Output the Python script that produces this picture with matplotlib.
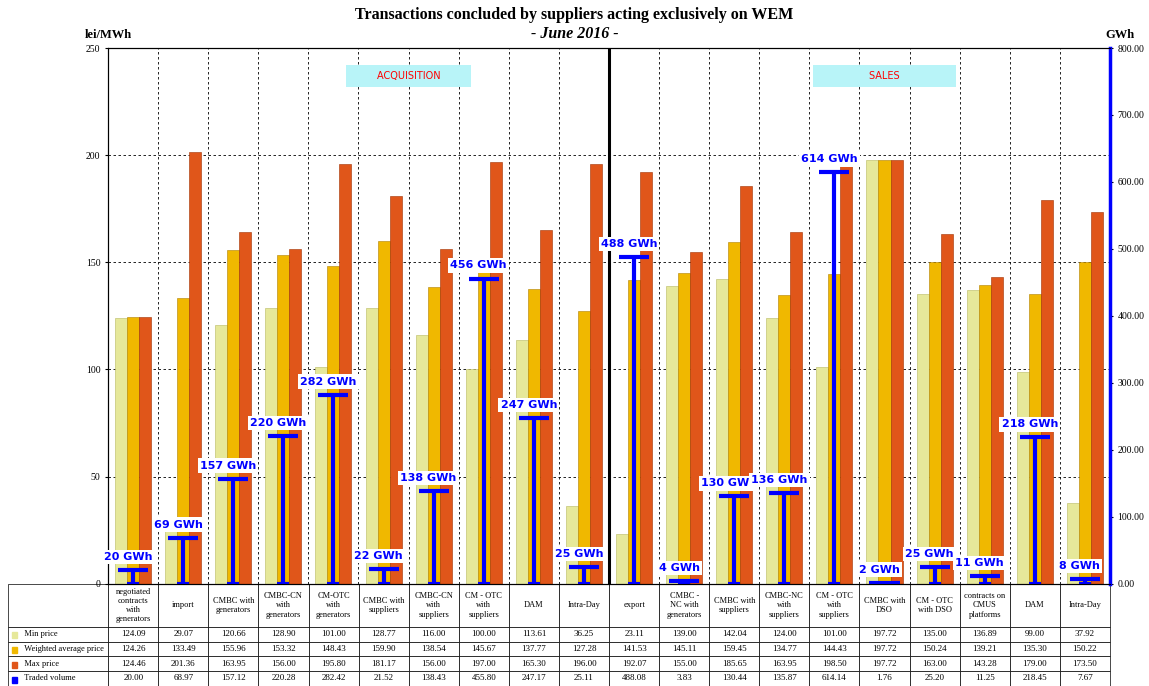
import numpy as np
import matplotlib.pyplot as plt

categories = ['negotiated\ncontracts\nwith\ngenerators', 'import', 'CMBC with\ngenerators',
              'CMBC-CN\nwith\ngenerators', 'CM-OTC\nwith\ngenerators', 'CMBC with\nsuppliers',
              'CMBC-CN\nwith\nsuppliers', 'CM - OTC\nwith\nsuppliers', 'DAM', 'Intra-Day',
              'export', 'CMBC -\nNC with\ngenerators', 'CMBC with\nsuppliers', 'CMBC-NC\nwith\nsuppliers',
              'CM - OTC\nwith\nsuppliers', 'CMBC with\nDSO', 'CM - OTC\nwith DSO',
              'contracts on\nCMUS\nplatforms', 'DAM', 'Intra-Day']
min_price = [124.09, 29.07, 120.66, 128.90, 101.00, 128.77, 116.00, 100.00, 113.61, 36.25,
             23.11, 139.00, 142.04, 124.00, 101.00, 197.72, 135.00, 136.89, 99.00, 37.92]
avg_price = [124.26, 133.49, 155.96, 153.32, 148.43, 159.90, 138.54, 145.67, 137.77, 127.28,
             141.53, 145.11, 159.45, 134.77, 144.43, 197.72, 150.24, 139.21, 135.30, 150.22]
max_price = [124.46, 201.36, 163.95, 156.00, 195.80, 181.17, 156.00, 197.00, 165.30, 196.00,
             192.07, 155.00, 185.65, 163.95, 198.50, 197.72, 163.00, 143.28, 179.00, 173.50]
volume = [20.00, 68.97, 157.12, 220.28, 282.42, 21.52, 138.43, 455.80, 247.17, 25.11,
          488.08, 3.83, 130.44, 135.87, 614.14, 1.76, 25.20, 11.25, 218.45, 7.67]

plt.rcParams['font.family'] = ['Liberation Serif', 'DejaVu Serif']
fig = plt.figure(figsize=(11.49, 6.86), dpi=100)
ax = fig.add_axes([0.094, 0.149, 0.872, 0.781])
n = len(categories)
x = np.arange(n)
w = 0.24
ax.bar(x - w, min_price, w, color='#E6E89A', edgecolor='#B8B860', lw=0.4)
ax.bar(x, avg_price, w, color='#F0B800', edgecolor='#B08000', lw=0.4)
ax.bar(x + w, max_price, w, color='#E0561A', edgecolor='#A03000', lw=0.4)
ax.set_xlim(-0.5, n - 0.5)
ax.set_ylim(0, 250)
ax.set_yticks(range(0, 251, 50))
ax.tick_params(labelsize=7, length=2)
ax.set_xticks([])
for v in [50, 100, 150, 200]:
    ax.axhline(v, color='black', ls=(0, (3, 3)), lw=0.6, zorder=0)
for i in range(1, n):
    if i == 10:
        ax.axvline(i - 0.5, color='black', lw=2.2)
    else:
        ax.axvline(i - 0.5, color='black', ls=(0, (3, 3)), lw=0.6, zorder=0)

ax2 = ax.twinx()
ax2.set_ylim(0, 800)
ax2.set_yticks(range(0, 801, 100))
ax2.set_yticklabels([f'{v:.2f}' for v in range(0, 801, 100)], fontsize=7)
ax2.spines['right'].set_color('blue')
ax2.spines['right'].set_linewidth(2.5)
ax2.tick_params(length=2)
ax2.vlines(x, 0, volume, color='blue', lw=3)
ax2.hlines(volume, x - 0.3, x + 0.3, color='blue', lw=3)
ax2.hlines(np.zeros(n), x - 0.12, x + 0.12, color='blue', lw=3)
for i, v in enumerate(volume):
    ax2.text(x[i] - 0.1, v + 12, f'{round(v)} GWh', color='blue', fontsize=8, fontweight='bold',
             family='DejaVu Sans', ha='center', va='bottom',
             bbox=dict(facecolor='white', edgecolor='none', pad=1.5))

ax.text(5.5, 237, '        ACQUISITION        ', color='red', fontsize=7, family='DejaVu Sans',
        ha='center', va='center',
        bbox=dict(facecolor='#B8F4F8', edgecolor='none', boxstyle='square,pad=0.6'))
ax.text(15.0, 237, '                SALES                ', color='red', fontsize=7, family='DejaVu Sans',
        ha='center', va='center',
        bbox=dict(facecolor='#B8F4F8', edgecolor='none', boxstyle='square,pad=0.6'))

fig.text(0.5, 0.972, 'Transactions concluded by suppliers acting exclusively on WEM', ha='center',
         fontsize=11.5, fontweight='bold')
fig.text(0.5, 0.945, '- June 2016 -', ha='center', fontsize=11.5, fontweight='bold', style='italic')
fig.text(0.094, 0.945, 'lei/MWh', ha='center', fontsize=9, fontweight='bold')
fig.text(0.975, 0.945, 'GWh', ha='center', fontsize=9, fontweight='bold')

# table
rows = [('Min price', min_price, '#E6E89A'), ('Weighted average price', avg_price, '#F0B800'),
        ('Max price', max_price, '#E0561A'), ('Traded volume', volume, 'blue')]
cell_text = [[''] + [c for c in categories]]
for name, vals, col in rows:
    cell_text.append(['   ' + name] + [f'{v:.2f}' for v in vals])
tab = ax.table(cellText=cell_text, cellLoc='center', bbox=[-0.0998, -0.19, 1.0998, 0.19])
tab.auto_set_font_size(False)
for (r, c), cell in tab.get_celld().items():
    cell.set_linewidth(0.5)
    cell.set_width(0.1 if c == 0 else 0.05)
    cell.set_height(0.43 if r == 0 else 0.145)
    cell.get_text().set_fontsize(6 if (r == 0 or c == 0) else 6.5)
    if c == 0:
        cell.get_text().set_ha('left')
        cell._loc = 'left'
for i, (name, vals, col) in enumerate(rows):
    yy = 584 + 43 + 15 * i + 7.5
    fig.patches.append(plt.Rectangle((12 / 1149, 1 - (yy + 3) / 686), 5 / 1149, 6 / 686,
                                     transform=fig.transFigure, color=col, figure=fig))

fig.savefig('out.png', dpi=100)
